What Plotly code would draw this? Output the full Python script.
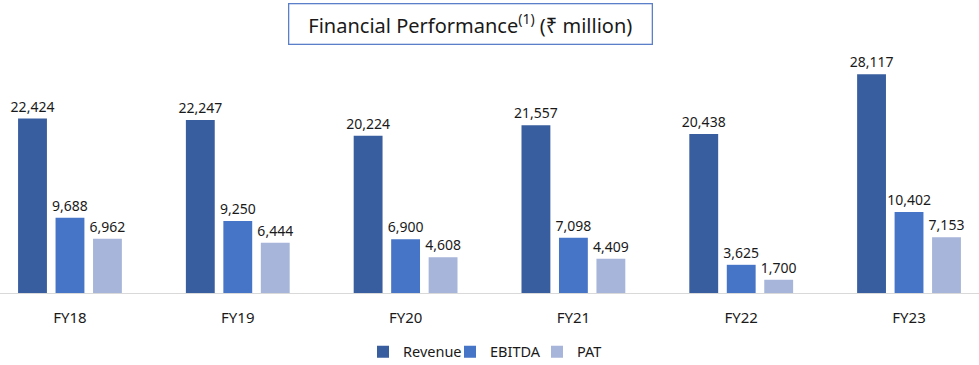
import plotly.graph_objects as go

categories = ["FY18", "FY19", "FY20", "FY21", "FY22", "FY23"]
revenue = [22424, 22247, 20224, 21557, 20438, 28117]
ebitda = [9688, 9250, 6900, 7098, 3625, 10402]
pat = [6962, 6444, 4608, 4409, 1700, 7153]

series = [
    ("Revenue", revenue, "#395E9F"),
    ("EBITDA", ebitda, "#4674C6"),
    ("PAT", pat, "#A7B5DA"),
]

FONT = "Noto Sans"
fig = go.Figure()
for name, vals, col in series:
    fig.add_trace(go.Bar(
        name=name, x=categories, y=vals, marker_color=col,
        marker_line_width=0,
        text=[f"{v:,}" for v in vals], textposition="outside",
        constraintext="none", cliponaxis=False,
        textfont=dict(family=FONT, size=14, color="#1a1a1a"),
    ))

fig.update_layout(
    width=979, height=365,
    margin=dict(l=0, r=0, t=60, b=72, autoexpand=False),
    paper_bgcolor="white", plot_bgcolor="white",
    barmode="group", bargap=0.33, bargroupgap=0.23,
    font=dict(family=FONT, color="#1a1a1a"),
    showlegend=True,
    legend=dict(orientation="h", x=363 / 979, xanchor="left",
                yref="container", y=0.08, yanchor="top",
                font=dict(family=FONT, size=14.5, color="#1a1a1a"),
                itemwidth=30, itemsizing="constant", traceorder="normal",
                entrywidth=42, entrywidthmode="pixels"),
    xaxis=dict(range=[-0.417, 5.417], showline=True, linecolor="#D9D9D9", linewidth=1,
               ticks="", showgrid=False, zeroline=False,
               tickfont=dict(family=FONT, size=15, color="#1a1a1a"),
               ticklabelstandoff=11),
    yaxis=dict(range=[0, 29950], visible=False, showgrid=False, zeroline=False),
    annotations=[dict(
        text="Financial Performance<sup>(1)</sup> (₹ million)",
        xref="paper", yref="paper", x=0.4805, y=1.0 + (60 - 3) / 233.0,
        xanchor="center", yanchor="top", showarrow=False,
        font=dict(family=FONT, size=20, color="#1a1a1a"),
        bordercolor="#5B7FC9", borderwidth=1.3, borderpad=3,
        width=356, height=33, bgcolor="white",
    )],
)

fig.write_html("out.html", config={"displayModeBar": False},
               post_script="document.body.style.margin='0';")
